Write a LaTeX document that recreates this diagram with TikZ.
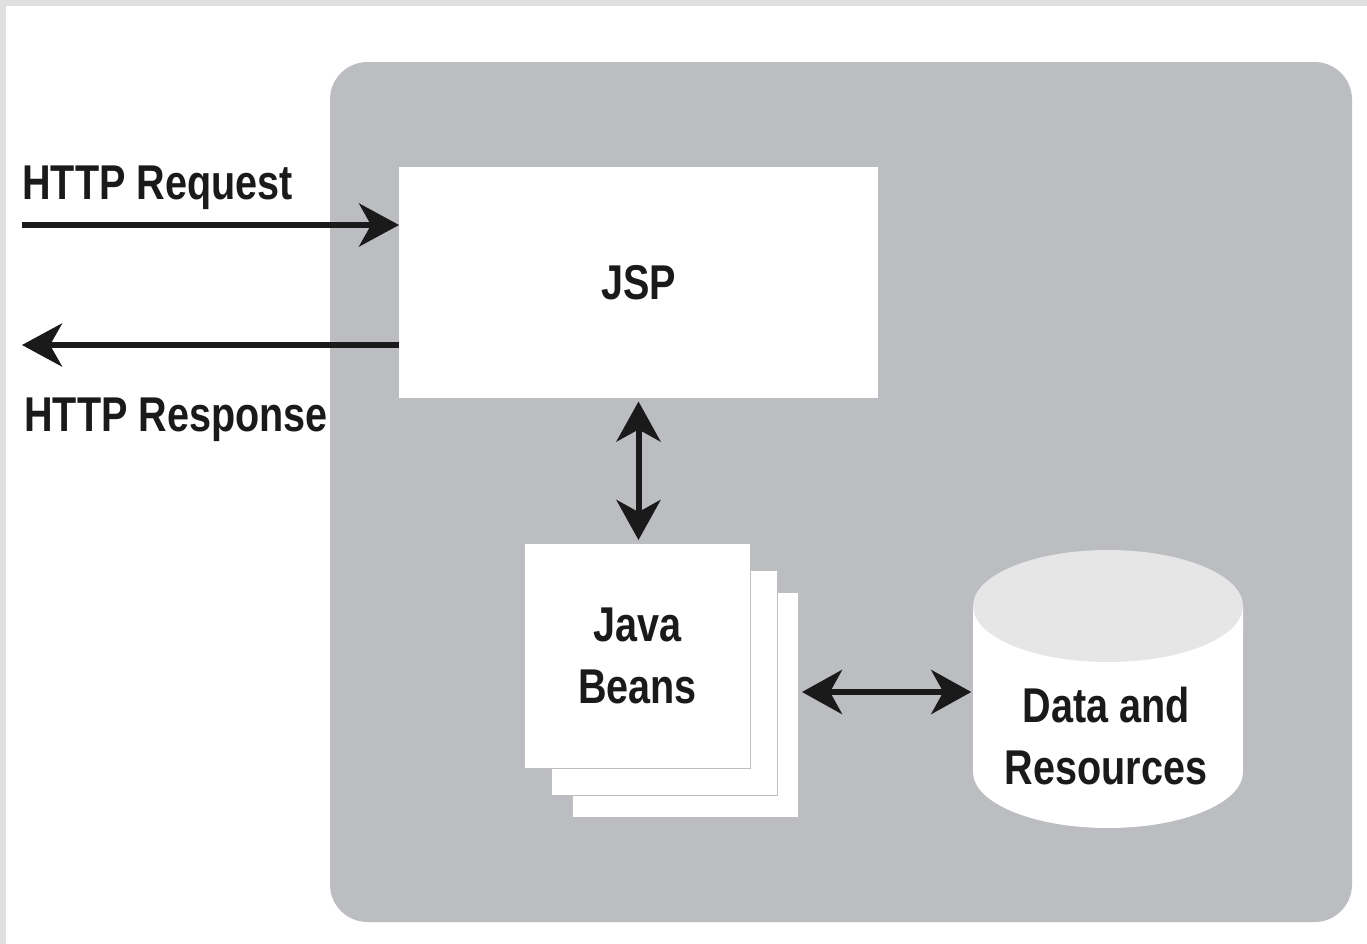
\documentclass[tikz,border=0pt]{standalone}
\usepackage{fontspec}
\setmainfont{Liberation Sans}[FakeStretch=0.81]
\usetikzlibrary{positioning,arrows.meta,shapes.geometric}

\definecolor{panelgray}{RGB}{188,189,193}
\definecolor{framegray}{RGB}{224,224,224}
\definecolor{lidgray}{RGB}{230,230,230}
\definecolor{ink}{RGB}{26,26,26}

\tikzset{
  every node/.style={font=\fontsize{27.8}{35.7}\selectfont\bfseries, text=ink},
  box/.style={fill=white, inner sep=0pt, outer sep=0pt, align=center},
  bean/.style={box, draw=black!25, line width=0.4pt,
    minimum width=4.52cm, minimum height=4.5cm},
  onearrow/.style={draw=ink, line width=0.12cm,
    -{Stealth[length=0.8cm, width=0.86cm, inset=0.24cm]}},
  twoarrow/.style={draw=ink, line width=0.12cm,
    {Stealth[length=0.8cm, width=0.88cm, inset=0.24cm]}-{Stealth[length=0.8cm, width=0.88cm, inset=0.24cm]}},
}

\begin{document}
\begin{tikzpicture}[x=0.02cm, y=-0.02cm]

  % Frame and panel
  \fill[framegray] (0,0) rectangle (1367,944);
  \fill[white] (6,6) rectangle (1367,944);
  \fill[panelgray, rounded corners=0.75cm] (330,62) rectangle (1352,922);

  % Define nodes
  \node[box, minimum width=9.58cm, minimum height=4.62cm] (jsp) at (638.5,282.5) {JSP};
  \node[bean] (bean3) at (685.5,704.5) {};
  \node[bean] (bean2) at (664,683) {};
  \node[bean] (bean1) at (637.5,656) {Java\\Beans};
  \node[inner sep=0pt, outer sep=0pt, minimum width=5.4cm, minimum height=5.56cm]
        (db) at (1108,689) {};
  % cylinder
  \fill[white] (973,606) -- (973,772)
    arc[start angle=180, end angle=360, x radius=2.7cm, y radius=1.12cm]
    -- (1243,606) -- cycle;
  \fill[lidgray] (1108,606) ellipse [x radius=2.7cm, y radius=1.12cm];
  \node[align=center] (dbtext) at (1106,736) {Data and\\Resources};

  \node[anchor=base west, inner sep=0pt] (req)  at (22,199) {HTTP Request};
  \node[anchor=base west, inner sep=0pt] (resp) at (24,431) {HTTP Response};

  \coordinate (reqin)   at (22,225);
  \coordinate (respout) at (22,345);

  % Connect the nodes
  \draw[onearrow] (reqin) -- (reqin -| jsp.west);
  \draw[onearrow] (respout -| jsp.west) -- (respout);
  \draw[twoarrow] ([yshift=-2pt]jsp.south) -- ([yshift=2pt]jsp.south |- bean1.north);
  \draw[twoarrow] ([xshift=2pt]bean3.east |- 0,692) -- ([xshift=-1pt]db.west |- 0,692);

\end{tikzpicture}
\end{document}
